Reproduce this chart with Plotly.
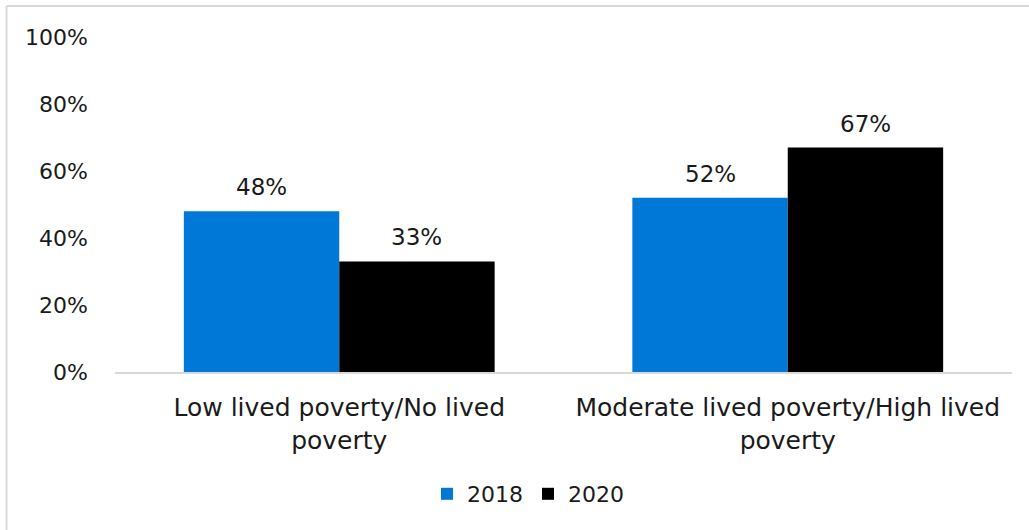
import plotly.graph_objects as go

categories = ["Low lived poverty/No lived<br>poverty", "Moderate lived poverty/High lived<br>poverty"]
series_names = ["2018", "2020"]
values_2018 = [48, 52]
values_2020 = [33, 67]
colors = ["#0078D7", "#000000"]
y_ticks = [0, 20, 40, 60, 80, 100]
y_tick_labels = ["0%", "20%", "40%", "60%", "80%", "100%"]

FONT = "DejaVu Sans"
TXT = "#1a1a1a"
BARGAP = 0.307

fig = go.Figure()
for name, vals, col in zip(series_names, [values_2018, values_2020], colors):
    fig.add_trace(go.Bar(
        x=list(range(len(categories))), y=vals, name=name,
        marker=dict(color=col, line=dict(width=0)),
    ))

# data labels above bars (offset from group centre on the category axis)
half = (1 - BARGAP) / 4
for k, vals in enumerate([values_2018, values_2020]):
    off = -half if k == 0 else half
    for i, v in enumerate(vals):
        fig.add_annotation(x=i + off, y=v, xref="x", yref="y", text=f"{v}%",
                           showarrow=False, yanchor="bottom", yshift=9,
                           font=dict(family=FONT, size=23, color=TXT))

L, R, T, B = 115, 17, 37, 158
W, H = 1029, 530
pw, ph = W - L - R, H - T - B

fig.update_layout(
    width=W, height=H,
    margin=dict(l=L, r=R, t=T, b=B),
    barmode="group", bargap=BARGAP, bargroupgap=0,
    plot_bgcolor="white", paper_bgcolor="white",
    font=dict(family=FONT, size=23, color=TXT),
    showlegend=True,
    legend=dict(orientation="h", x=(528 - L) / pw, xanchor="center", y=-122 / ph, yanchor="middle",
                font=dict(family=FONT, size=22, color=TXT), traceorder="normal",
                itemwidth=30),
    xaxis=dict(showline=True, linecolor="#d9d9d9", linewidth=2, ticks="",
               tickvals=list(range(len(categories))), ticktext=categories,
               range=[-0.5, len(categories) - 0.5],
               tickfont=dict(family=FONT, size=25, color=TXT), ticklabelstandoff=12),
    yaxis=dict(range=[0, 100], tickvals=y_ticks, ticktext=y_tick_labels,
               showgrid=False, zeroline=False, showline=False, ticks="",
               tickfont=dict(family=FONT, size=22, color=TXT), ticklabelstandoff=26),
)

# outer border (top and left)
x_left = (6.5 - L) / pw
y_top = (H - B - 6) / ph
fig.add_shape(type="line", xref="paper", yref="paper", x0=x_left, x1=(W - L) / pw + 0.01,
              y0=y_top, y1=y_top, line=dict(color="#d9d9d9", width=2))
fig.add_shape(type="line", xref="paper", yref="paper", x0=x_left, x1=x_left,
              y0=y_top, y1=-(B + 5) / ph, line=dict(color="#d9d9d9", width=2))

fig.write_html("out.html", config={"displayModeBar": False},
               post_script="document.body.style.margin='0';")
